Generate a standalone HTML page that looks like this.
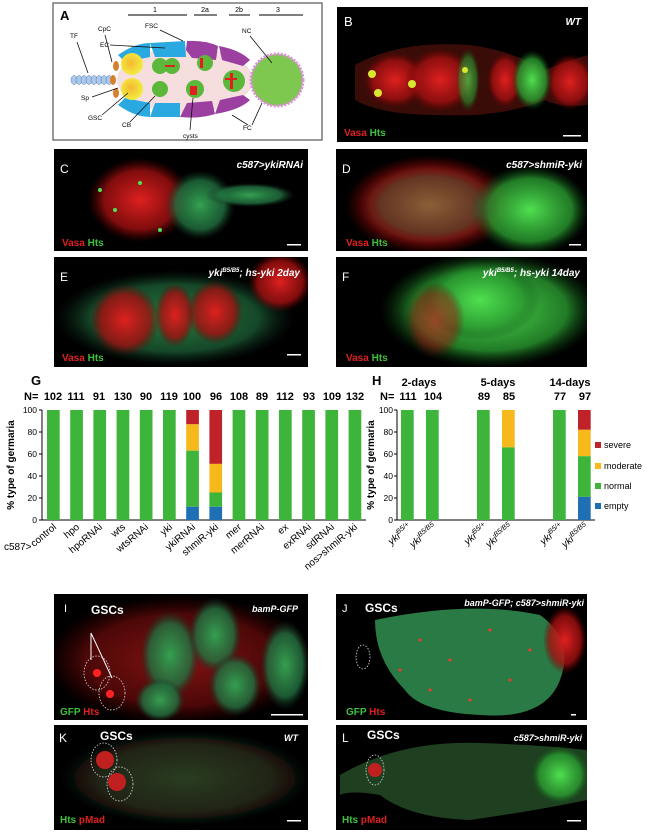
<!DOCTYPE html>
<html><head><meta charset="utf-8"><style>
html,body{margin:0;padding:0;background:#fff;}
svg{display:block;font-family:"Liberation Sans",sans-serif;}
</style></head><body>
<svg width="650" height="832" viewBox="0 0 650 832" xmlns="http://www.w3.org/2000/svg">
<defs>
<radialGradient id="rg" cx="50%" cy="50%" r="50%"><stop offset="0" stop-color="#e02020" stop-opacity="1"/><stop offset="0.7" stop-color="#a01010" stop-opacity="0.8"/><stop offset="1" stop-color="#600" stop-opacity="0"/></radialGradient>
<radialGradient id="gg" cx="50%" cy="50%" r="50%"><stop offset="0" stop-color="#50e050" stop-opacity="1"/><stop offset="0.7" stop-color="#2a9a30" stop-opacity="0.8"/><stop offset="1" stop-color="#0a4010" stop-opacity="0"/></radialGradient>
<radialGradient id="gd" cx="50%" cy="50%" r="50%"><stop offset="0" stop-color="#34a050" stop-opacity="1"/><stop offset="0.7" stop-color="#217040" stop-opacity="0.8"/><stop offset="1" stop-color="#103020" stop-opacity="0"/></radialGradient>
<radialGradient id="yl" cx="45%" cy="45%" r="55%"><stop offset="0" stop-color="#f6b830"/><stop offset="1" stop-color="#f2ec40"/></radialGradient>
</defs>

<!-- Panel A -->
<rect x="53" y="3" width="269" height="137" fill="#fff" stroke="#555" stroke-width="1.2"/>
<text x="60" y="20" font-size="13" font-weight="bold">A</text>
<g stroke="#555" stroke-width="1.5"><line x1="128" y1="15" x2="187" y2="15"/><line x1="194" y1="15" x2="217" y2="15"/><line x1="229" y1="15" x2="250" y2="15"/><line x1="259" y1="15" x2="303" y2="15"/></g>
<g font-size="7" text-anchor="middle"><text x="155" y="12">1</text><text x="205" y="12">2a</text><text x="239" y="12">2b</text><text x="278" y="12">3</text></g>
<ellipse cx="185" cy="80" rx="68" ry="33" fill="#f7dede"/>
<path d="M118 55 Q135 43 150 43 L150 57 L125 62Z" fill="#2aa8e0"/>
<path d="M150 43 L185 41 L186 57 L155 57Z" fill="#2aa8e0"/>
<path d="M118 105 Q135 117 150 117 L150 103 L125 98Z" fill="#2aa8e0"/>
<path d="M150 117 L180 117 L180 103 L155 103Z" fill="#2aa8e0"/>
<path d="M187 41 Q205 40 218 46 L216 60 L192 58 L186 50Z" fill="#9b3fa0"/>
<path d="M219 46 Q240 50 250 60 L243 66 L222 60Z" fill="#9b3fa0"/>
<path d="M180 117 Q200 119 215 114 L212 101 L187 103Z" fill="#9b3fa0"/>
<path d="M215 114 Q240 110 250 100 L243 95 L220 100Z" fill="#9b3fa0"/>
<circle cx="132" cy="64" r="11" fill="url(#yl)"/><circle cx="132" cy="89" r="11" fill="url(#yl)"/>
<circle cx="160" cy="66" r="8" fill="#5bb83a"/><circle cx="172" cy="66" r="8" fill="#5bb83a"/>
<circle cx="160" cy="89" r="8" fill="#5bb83a"/>
<circle cx="195" cy="89" r="9" fill="#5bb83a"/><circle cx="205" cy="63" r="8" fill="#5bb83a"/>
<circle cx="234" cy="81" r="11" fill="#5bb83a"/>
<circle cx="277" cy="80" r="26" fill="#7ec850" stroke="#e08ae0" stroke-width="3" stroke-dasharray="2 1.5"/>
<g fill="#a9c8ec" stroke="#5577aa" stroke-width="0.5"><ellipse cx="74" cy="80" rx="3" ry="4.5"/><ellipse cx="79" cy="80" rx="3" ry="4.5"/><ellipse cx="84" cy="80" rx="3" ry="4.5"/><ellipse cx="89" cy="80" rx="3" ry="4.5"/><ellipse cx="94" cy="80" rx="3" ry="4.5"/><ellipse cx="99" cy="80" rx="3" ry="4.5"/><ellipse cx="104" cy="80" rx="3" ry="4.5"/><ellipse cx="109" cy="80" rx="3" ry="4.5"/></g>
<g fill="#d88030"><ellipse cx="116" cy="66" rx="3" ry="5"/><ellipse cx="113" cy="80" rx="3" ry="5"/><ellipse cx="116" cy="93" rx="3" ry="5"/></g>
<g fill="#e02020"><rect x="165" y="65" width="10" height="2"/><rect x="190" y="86" width="7" height="9"/><rect x="200" y="58" width="3" height="10"/><rect x="230" y="73" width="3" height="16"/><rect x="225" y="78" width="12" height="2"/></g>
<g font-size="6.5"><text x="70" y="38">TF</text><text x="98" y="31">CpC</text><text x="100" y="47">EC</text><text x="145" y="28">FSC</text><text x="242" y="33">NC</text><text x="81" y="100">Sp</text><text x="88" y="120">GSC</text><text x="122" y="127">CB</text><text x="183" y="138">cysts</text><text x="243" y="130">FC</text></g>
<g stroke="#111" stroke-width="0.8" fill="none"><line x1="77" y1="42" x2="88" y2="73"/><line x1="105" y1="35" x2="112" y2="62"/><line x1="110" y1="45" x2="165" y2="48"/><line x1="160" y1="30" x2="183" y2="41"/><line x1="250" y1="36" x2="272" y2="63"/><line x1="92" y1="97" x2="118" y2="88"/><line x1="102" y1="115" x2="128" y2="93"/><line x1="130" y1="122" x2="155" y2="96"/><line x1="190" y1="130" x2="193" y2="98"/><line x1="248" y1="125" x2="232" y2="115"/><line x1="252" y1="125" x2="262" y2="103"/></g>

<!-- Panel B -->
<svg x="337" y="7" width="251" height="135" viewBox="337 7 251 135">
<rect x="337" y="7" width="251" height="135" fill="#000"/>
<path d="M355 65 Q400 40 470 45 Q510 50 545 70 Q570 60 588 55 L588 105 Q560 108 545 100 Q500 118 440 115 Q380 115 355 100Z" fill="#3a0c08"/>
<ellipse cx="395" cy="80" rx="32" ry="28" fill="url(#rg)"/><ellipse cx="440" cy="80" rx="35" ry="32" fill="url(#rg)"/><ellipse cx="505" cy="80" rx="18" ry="28" fill="url(#rg)"/><ellipse cx="570" cy="82" rx="24" ry="28" fill="url(#rg)"/>
<ellipse cx="532" cy="80" rx="20" ry="30" fill="url(#gg)"/><ellipse cx="468" cy="80" rx="12" ry="32" fill="url(#gg)" opacity=".7"/>
<g fill="#d8e830"><circle cx="372" cy="74" r="4"/><circle cx="378" cy="93" r="4"/><circle cx="412" cy="84" r="4"/><circle cx="465" cy="70" r="3"/></g>
<text x="344" y="26" font-size="13" fill="#fff">B</text><text x="581" y="25" font-size="10" fill="#fff" font-style="italic" font-weight="bold" text-anchor="end">WT</text>
<text x="344" y="136" font-size="10" font-weight="bold"><tspan fill="#e02020">Vasa </tspan><tspan fill="#3ec03e">Hts</tspan></text>
<rect x="563" y="135" width="18" height="1.5" fill="#fff"/>
</svg>

<!-- C -->
<svg x="54" y="149" width="254" height="102" viewBox="54 149 254 102">
<rect x="54" y="149" width="254" height="102" fill="#000"/>
<ellipse cx="140" cy="200" rx="52" ry="42" fill="url(#rg)"/><ellipse cx="200" cy="205" rx="35" ry="35" fill="url(#gd)"/><ellipse cx="250" cy="195" rx="45" ry="12" fill="url(#gd)"/>
<g fill="#50e050"><circle cx="100" cy="190" r="2"/><circle cx="115" cy="210" r="2"/><circle cx="140" cy="183" r="2"/><circle cx="160" cy="230" r="2"/></g>
<text x="60" y="173" font-size="12" fill="#fff">C</text><text x="303" y="168" font-size="10" fill="#fff" font-style="italic" font-weight="bold" text-anchor="end">c587&gt;ykiRNAi</text>
<text x="62" y="246" font-size="10" font-weight="bold"><tspan fill="#e02020">Vasa </tspan><tspan fill="#3ec03e">Hts</tspan></text>
<rect x="287" y="244" width="14" height="1.5" fill="#fff"/>
</svg>
<!-- D -->
<svg x="336" y="149" width="251" height="102" viewBox="336 149 251 102">
<rect x="336" y="149" width="251" height="102" fill="#000"/>
<ellipse cx="430" cy="205" rx="85" ry="50" fill="url(#rg)"/><ellipse cx="530" cy="210" rx="60" ry="45" fill="url(#gg)"/><ellipse cx="430" cy="205" rx="70" ry="40" fill="url(#gd)" opacity=".5"/>
<text x="342" y="173" font-size="12" fill="#fff">D</text><text x="582" y="168" font-size="10" fill="#fff" font-style="italic" font-weight="bold" text-anchor="end">c587&gt;shmiR-yki</text>
<text x="346" y="246" font-size="10" font-weight="bold"><tspan fill="#e02020">Vasa </tspan><tspan fill="#3ec03e">Hts</tspan></text>
<rect x="569" y="244" width="12" height="1.5" fill="#fff"/>
</svg>
<!-- E -->
<svg x="54" y="257" width="254" height="110" viewBox="54 257 254 110">
<rect x="54" y="257" width="254" height="110" fill="#000"/>
<ellipse cx="175" cy="318" rx="120" ry="48" fill="url(#gd)" opacity=".8"/>
<ellipse cx="125" cy="320" rx="35" ry="36" fill="url(#rg)"/><ellipse cx="175" cy="315" rx="20" ry="32" fill="url(#rg)"/><ellipse cx="215" cy="312" rx="28" ry="32" fill="url(#rg)"/><ellipse cx="280" cy="282" rx="32" ry="30" fill="url(#rg)"/>
<text x="60" y="281" font-size="12" fill="#fff">E</text><text x="300" y="276" font-size="10" fill="#fff" font-style="italic" font-weight="bold" text-anchor="end">yki<tspan font-size="6" dy="-4">B5/B5</tspan><tspan dy="4">; hs-yki 2day</tspan></text>
<text x="62" y="361" font-size="10" font-weight="bold"><tspan fill="#e02020">Vasa </tspan><tspan fill="#3ec03e">Hts</tspan></text>
<rect x="287" y="354" width="14" height="1.5" fill="#fff"/>
</svg>
<!-- F -->
<svg x="336" y="257" width="251" height="110" viewBox="336 257 251 110">
<rect x="336" y="257" width="251" height="110" fill="#000"/>
<ellipse cx="490" cy="310" rx="110" ry="58" fill="url(#gg)"/><ellipse cx="480" cy="300" rx="60" ry="40" fill="url(#gg)"/><ellipse cx="435" cy="320" rx="30" ry="38" fill="url(#rg)" opacity=".6"/>
<text x="342" y="281" font-size="12" fill="#fff">F</text><text x="580" y="276" font-size="10" fill="#fff" font-style="italic" font-weight="bold" text-anchor="end">yki<tspan font-size="6" dy="-4">B5/B5</tspan><tspan dy="4">; hs-yki 14day</tspan></text>
<text x="346" y="361" font-size="10" font-weight="bold"><tspan fill="#e02020">Vasa </tspan><tspan fill="#3ec03e">Hts</tspan></text>
</svg>

<!-- G chart -->
<text x="31" y="385" font-size="13" font-weight="bold">G</text>
<text x="24" y="400" font-size="11" font-weight="bold">N=</text>
<g font-size="11" font-weight="bold" text-anchor="middle">
<text x="53" y="400">102</text><text x="76" y="400">111</text><text x="99" y="400">91</text><text x="123" y="400">130</text><text x="146" y="400">90</text><text x="169" y="400">119</text><text x="192" y="400">100</text><text x="216" y="400">96</text><text x="239" y="400">108</text><text x="262" y="400">89</text><text x="285" y="400">112</text><text x="309" y="400">93</text><text x="332" y="400">109</text><text x="355" y="400">132</text></g>
<g stroke="#000" stroke-width="1"><line x1="42" y1="410" x2="42" y2="520"/><line x1="42" y1="520" x2="366" y2="520"/>
<line x1="39" y1="410" x2="42" y2="410"/><line x1="39" y1="432" x2="42" y2="432"/><line x1="39" y1="454" x2="42" y2="454"/><line x1="39" y1="476" x2="42" y2="476"/><line x1="39" y1="498" x2="42" y2="498"/><line x1="39" y1="520" x2="42" y2="520"/></g>
<g font-size="8.5" text-anchor="end"><text x="37" y="413">100</text><text x="37" y="435">80</text><text x="37" y="457">60</text><text x="37" y="479">40</text><text x="37" y="501">20</text><text x="37" y="523">0</text></g>
<text transform="translate(14,465) rotate(-90)" font-size="10" font-weight="bold" text-anchor="middle">% type of germaria</text>
<g fill="#3db53a">
<rect x="47" y="410" width="12.7" height="110"/><rect x="70.2" y="410" width="12.7" height="110"/><rect x="93.4" y="410" width="12.7" height="110"/><rect x="116.6" y="410" width="12.7" height="110"/><rect x="139.8" y="410" width="12.7" height="110"/><rect x="163" y="410" width="12.7" height="110"/>
<rect x="232.6" y="410" width="12.7" height="110"/><rect x="255.8" y="410" width="12.7" height="110"/><rect x="279" y="410" width="12.7" height="110"/><rect x="302.2" y="410" width="12.7" height="110"/><rect x="325.4" y="410" width="12.7" height="110"/><rect x="348.6" y="410" width="12.7" height="110"/></g>
<rect x="186.2" y="410" width="12.7" height="14.3" fill="#c0222a"/><rect x="186.2" y="424.3" width="12.7" height="26.4" fill="#f6b81a"/><rect x="186.2" y="450.7" width="12.7" height="56.1" fill="#3db53a"/><rect x="186.2" y="506.8" width="12.7" height="13.2" fill="#1f6fb5"/>
<rect x="209.4" y="410" width="12.7" height="53.9" fill="#c0222a"/><rect x="209.4" y="463.9" width="12.7" height="28.6" fill="#f6b81a"/><rect x="209.4" y="492.5" width="12.7" height="14.3" fill="#3db53a"/><rect x="209.4" y="506.8" width="12.7" height="13.2" fill="#1f6fb5"/>
<text x="4" y="550" font-size="10">c587&gt;</text>
<g font-size="10" text-anchor="end">
<text transform="translate(57,528) rotate(-40)">control</text><text transform="translate(80,528) rotate(-40)">hpo</text><text transform="translate(103,528) rotate(-40)">hpoRNAi</text><text transform="translate(126,528) rotate(-40)">wts</text><text transform="translate(149,528) rotate(-40)">wtsRNAi</text><text transform="translate(173,528) rotate(-40)">yki</text><text transform="translate(196,528) rotate(-40)">ykiRNAi</text><text transform="translate(219,528) rotate(-40)">shmiR-yki</text><text transform="translate(242,528) rotate(-40)">mer</text><text transform="translate(265,528) rotate(-40)">merRNAi</text><text transform="translate(289,528) rotate(-40)">ex</text><text transform="translate(312,528) rotate(-40)">exRNAi</text><text transform="translate(335,528) rotate(-40)">sdRNAi</text><text transform="translate(358,528) rotate(-40)">nos&gt;shmiR-yki</text></g>

<!-- H chart -->
<text x="372" y="385" font-size="13" font-weight="bold">H</text>
<g font-size="11" font-weight="bold" text-anchor="middle"><text x="419" y="386">2-days</text><text x="498" y="386">5-days</text><text x="570" y="386">14-days</text></g>
<text x="380" y="400" font-size="11" font-weight="bold">N=</text>
<g font-size="11" font-weight="bold" text-anchor="middle"><text x="408" y="400">111</text><text x="433" y="400">104</text><text x="484" y="400">89</text><text x="509" y="400">85</text><text x="560" y="400">77</text><text x="585" y="400">97</text></g>
<g stroke="#000" stroke-width="1"><line x1="397" y1="410" x2="397" y2="520"/><line x1="397" y1="520" x2="595" y2="520"/>
<line x1="394" y1="410" x2="397" y2="410"/><line x1="394" y1="432" x2="397" y2="432"/><line x1="394" y1="454" x2="397" y2="454"/><line x1="394" y1="476" x2="397" y2="476"/><line x1="394" y1="498" x2="397" y2="498"/><line x1="394" y1="520" x2="397" y2="520"/></g>
<g font-size="8.5" text-anchor="end"><text x="393" y="413">100</text><text x="393" y="435">80</text><text x="393" y="457">60</text><text x="393" y="479">40</text><text x="393" y="501">20</text><text x="393" y="523">0</text></g>
<text transform="translate(374,465) rotate(-90)" font-size="10" font-weight="bold" text-anchor="middle">% type of germaria</text>
<g fill="#3db53a"><rect x="401" y="410" width="12.7" height="110"/><rect x="426" y="410" width="12.7" height="110"/><rect x="477" y="410" width="12.7" height="110"/><rect x="553" y="410" width="12.7" height="110"/></g>
<rect x="502" y="410" width="12.7" height="37.4" fill="#f6b81a"/><rect x="502" y="447.4" width="12.7" height="72.6" fill="#3db53a"/>
<rect x="578" y="410" width="12.7" height="19.8" fill="#c0222a"/><rect x="578" y="429.8" width="12.7" height="26.4" fill="#f6b81a"/><rect x="578" y="456.2" width="12.7" height="40.7" fill="#3db53a"/><rect x="578" y="496.9" width="12.7" height="23.1" fill="#1f6fb5"/>
<g font-size="9"><rect x="595" y="442" width="6" height="6" fill="#c0222a"/><text x="604" y="448">severe</text>
<rect x="595" y="463" width="6" height="6" fill="#f6b81a"/><text x="604" y="469">moderate</text>
<rect x="595" y="483" width="6" height="6" fill="#3db53a"/><text x="604" y="489">normal</text>
<rect x="595" y="503" width="6" height="6" fill="#1f6fb5"/><text x="604" y="509">empty</text></g>
<g font-size="10" font-style="italic" text-anchor="end">
<text transform="translate(412,528) rotate(-40)">yki<tspan font-size="7" dy="-4">B5/+</tspan></text>
<text transform="translate(437,528) rotate(-40)">yki<tspan font-size="7" dy="-4">B5/B5</tspan></text>
<text transform="translate(488,528) rotate(-40)">yki<tspan font-size="7" dy="-4">B5/+</tspan></text>
<text transform="translate(513,528) rotate(-40)">yki<tspan font-size="7" dy="-4">B5/B5</tspan></text>
<text transform="translate(564,528) rotate(-40)">yki<tspan font-size="7" dy="-4">B5/+</tspan></text>
<text transform="translate(589,528) rotate(-40)">yki<tspan font-size="7" dy="-4">B5/B5</tspan></text></g>

<!-- I -->
<svg x="54" y="594" width="254" height="126" viewBox="54 594 254 126">
<rect x="54" y="594" width="254" height="126" fill="#000"/>
<ellipse cx="180" cy="660" rx="135" ry="65" fill="url(#rg)" opacity=".6"/>
<ellipse cx="170" cy="655" rx="30" ry="45" fill="url(#gd)"/><ellipse cx="215" cy="635" rx="27" ry="38" fill="url(#gd)"/><ellipse cx="235" cy="685" rx="27" ry="32" fill="url(#gd)"/><ellipse cx="285" cy="665" rx="25" ry="45" fill="url(#gd)"/><ellipse cx="160" cy="700" rx="25" ry="22" fill="url(#gd)"/>
<circle cx="97" cy="673" r="4" fill="#f22"/><circle cx="110" cy="694" r="4" fill="#f22"/>
<g stroke="#ddd" stroke-dasharray="1.5 1.5" fill="none" stroke-width=".8"><ellipse cx="97" cy="673" rx="13" ry="17"/><ellipse cx="112" cy="693" rx="13" ry="17"/></g>
<g stroke="#fff" stroke-width="1"><line x1="91" y1="633" x2="91" y2="660"/><line x1="91" y1="633" x2="112" y2="678"/></g>
<text x="64" y="612" font-size="11" fill="#fff">I</text><text x="91" y="614" font-size="12" fill="#fff" font-weight="bold">GSCs</text>
<text x="298" y="612" font-size="9" fill="#fff" font-style="italic" font-weight="bold" text-anchor="end">bamP-GFP</text>
<text x="60" y="715" font-size="10" font-weight="bold"><tspan fill="#3ec03e">GFP </tspan><tspan fill="#e02020">Hts</tspan></text>
<rect x="271" y="714" width="32" height="1.5" fill="#fff"/>
</svg>
<!-- J -->
<svg x="336" y="594" width="251" height="126" viewBox="336 594 251 126">
<rect x="336" y="594" width="251" height="126" fill="#000"/>
<path d="M375 620 Q470 600 540 615 Q575 640 560 680 Q545 720 480 715 Q420 712 405 690 Q375 660 375 620Z" fill="#2a7a45"/>
<ellipse cx="565" cy="640" rx="22" ry="34" fill="url(#rg)"/>
<g fill="#f33"><circle cx="420" cy="640" r="1.5"/><circle cx="450" cy="660" r="1.5"/><circle cx="490" cy="630" r="1.5"/><circle cx="510" cy="680" r="1.5"/><circle cx="470" cy="700" r="1.5"/><circle cx="430" cy="690" r="1.5"/><circle cx="530" cy="650" r="1.5"/><circle cx="400" cy="670" r="1.5"/></g>
<ellipse cx="363" cy="657" rx="7" ry="12" fill="none" stroke="#ddd" stroke-dasharray="1.5 1.5" stroke-width=".8"/>
<text x="342" y="612" font-size="11" fill="#fff">J</text><text x="365" y="612" font-size="12" fill="#fff" font-weight="bold">GSCs</text>
<text x="584" y="606" font-size="9" fill="#fff" font-style="italic" font-weight="bold" text-anchor="end">bamP-GFP; c587&gt;shmiR-yki</text>
<text x="346" y="715" font-size="10" font-weight="bold"><tspan fill="#3ec03e">GFP </tspan><tspan fill="#e02020">Hts</tspan></text>
<rect x="571" y="714" width="5" height="1.5" fill="#fff"/>
</svg>
<!-- K -->
<svg x="54" y="725" width="254" height="105" viewBox="54 725 254 105">
<rect x="54" y="725" width="254" height="105" fill="#000"/>
<ellipse cx="185" cy="778" rx="125" ry="48" fill="url(#gd)" opacity=".6"/>
<ellipse cx="185" cy="778" rx="110" ry="40" fill="#3a0a0a" opacity=".4"/>
<circle cx="105" cy="760" r="9" fill="#c02020"/><circle cx="117" cy="782" r="9" fill="#c02020"/>
<g stroke="#ddd" stroke-dasharray="1.5 1.5" fill="none" stroke-width=".8"><ellipse cx="104" cy="760" rx="13" ry="17"/><ellipse cx="120" cy="784" rx="13" ry="17"/></g>
<text x="59" y="742" font-size="12" fill="#fff">K</text><text x="100" y="740" font-size="12" fill="#fff" font-weight="bold">GSCs</text>
<text x="298" y="741" font-size="9" fill="#fff" font-style="italic" font-weight="bold" text-anchor="end">WT</text>
<text x="60" y="823" font-size="10" font-weight="bold"><tspan fill="#3ec03e">Hts </tspan><tspan fill="#e02020">pMad</tspan></text>
<rect x="287" y="820" width="14" height="1.5" fill="#fff"/>
</svg>
<!-- L -->
<svg x="336" y="725" width="251" height="105" viewBox="336 725 251 105">
<rect x="336" y="725" width="251" height="105" fill="#000"/>
<path d="M340 775 Q400 740 480 743 Q540 745 587 750 L587 800 Q540 810 470 820 Q410 818 380 795 Q350 790 340 795Z" fill="#1e4020"/>
<ellipse cx="560" cy="775" rx="30" ry="30" fill="url(#gg)"/>
<circle cx="375" cy="770" r="7" fill="#c02020"/>
<ellipse cx="375" cy="770" rx="9" ry="15" fill="none" stroke="#ddd" stroke-dasharray="1.5 1.5" stroke-width=".8"/>
<text x="342" y="742" font-size="12" fill="#fff">L</text><text x="367" y="739" font-size="12" fill="#fff" font-weight="bold">GSCs</text>
<text x="582" y="741" font-size="9" fill="#fff" font-style="italic" font-weight="bold" text-anchor="end">c587&gt;shmiR-yki</text>
<text x="342" y="823" font-size="10" font-weight="bold"><tspan fill="#3ec03e">Hts </tspan><tspan fill="#e02020">pMad</tspan></text>
<rect x="567" y="820" width="14" height="1.5" fill="#fff"/>
</svg>
</svg>
</body></html>
